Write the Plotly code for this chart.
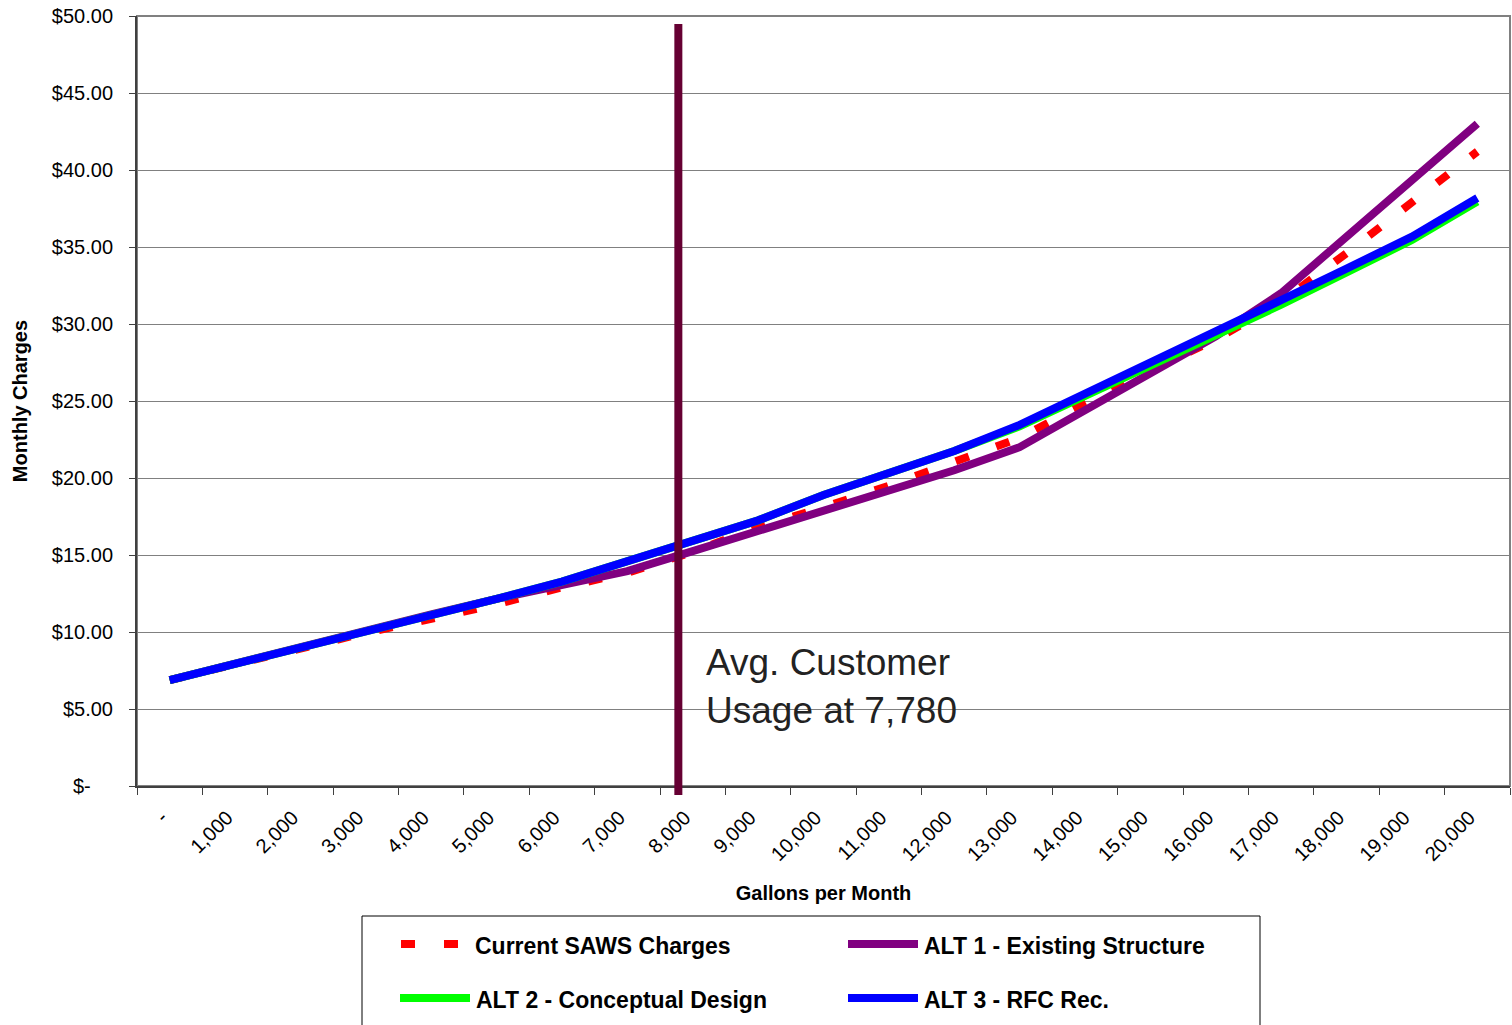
import plotly.graph_objects as go

# ---- data -------------------------------------------------------------
gallons = [0, 1000, 2000, 3000, 4000, 5000, 6000, 7000, 8000, 9000, 10000,
           11000, 12000, 13000, 14000, 15000, 16000, 17000, 18000, 19000, 20000]
gallon_labels = ["-", "1,000", "2,000", "3,000", "4,000", "5,000", "6,000",
                 "7,000", "8,000", "9,000", "10,000", "11,000", "12,000",
                 "13,000", "14,000", "15,000", "16,000", "17,000", "18,000",
                 "19,000", "20,000"]

current_saws = [6.88, 7.90, 8.95, 9.95, 10.85, 11.80, 12.90, 13.85, 15.20, 16.80,
                18.10, 19.50, 21.05, 22.60, 24.85, 27.00, 29.00, 31.45, 34.60,
                37.90, 41.20]
alt1_existing = [6.88, 7.97, 9.05, 10.12, 11.15, 12.15, 13.05, 13.95, 15.25, 16.55,
                 17.85, 19.15, 20.50, 22.00, 24.40, 26.80, 29.20, 32.00, 35.65,
                 39.30, 43.00]
alt2_conceptual = [6.88, 7.93, 8.98, 10.00, 11.00, 12.15, 13.27, 14.57, 15.95, 17.25,
                   18.90, 20.30, 21.75, 23.35, 25.30, 27.25, 29.20, 31.25, 33.35,
                   35.45, 37.95]
alt3_rfc = [6.88, 7.93, 8.98, 10.00, 11.00, 12.15, 13.27, 14.57, 15.95, 17.25,
            18.90, 20.30, 21.75, 23.45, 25.45, 27.45, 29.45, 31.55, 33.60,
            35.67, 38.18]

series_names = ["Current SAWS Charges", "ALT 1 - Existing Structure",
                "ALT 2 - Conceptual Design", "ALT 3 - RFC Rec."]
series_values = [current_saws, alt1_existing, alt2_conceptual, alt3_rfc]
series_colors = ["#FF0000", "#800080", "#00FF00", "#0000FF"]
series_dash = ["14px,29px", "solid", "solid", "solid"]

charge_ticks = [0, 5, 10, 15, 20, 25, 30, 35, 40, 45, 50]
# accounting-style zero label keeps its trailing padding
charge_labels = ["$-\u00a0\u00a0\u00a0\u00a0", "$5.00", "$10.00", "$15.00", "$20.00",
                 "$25.00", "$30.00", "$35.00", "$40.00", "$45.00", "$50.00"]

avg_usage = 7780

# ---- layout geometry ---------------------------------------------------
W, H = 1512, 1025
ML, MR, MT, MB = 137, 2, 16, 239
PW, PH = W - ML - MR, H - MT - MB
FONT = "Liberation Sans, Arial, sans-serif"


def px_x(p):
    return (p - ML) / PW


def px_y(p):
    return (H - MB - p) / PH


fig = go.Figure()
for name, vals, col, dash in zip(series_names, series_values, series_colors, series_dash):
    fig.add_trace(go.Scatter(
        x=gallons, y=vals, name=name, mode="lines",
        line=dict(color=col, width=8, dash=dash),
        showlegend=False,
    ))

step = gallons[1] - gallons[0]
boundaries = [g - step / 2 for g in gallons] + [gallons[-1] + step / 2]

fig.update_xaxes(
    range=[gallons[0] - step / 2, gallons[-1] + step / 2],
    tickmode="array", tickvals=gallons, ticktext=gallon_labels,
    tickangle=-45, ticks="", showgrid=False, zeroline=False,
    ticklabelstandoff=10, ticklabelshift=-8,
    showline=True, linecolor="#404040", linewidth=2,
    tickfont=dict(family=FONT, size=20, color="#000000"),
    minor=dict(tickmode="array", tickvals=boundaries, ticks="outside",
               ticklen=7, tickwidth=1, tickcolor="#404040", showgrid=False),
    title=dict(text="<b>Gallons per Month</b>", standoff=22,
               font=dict(family=FONT, size=20, color="#000000")),
)
fig.update_yaxes(
    range=[0, 50], tickmode="array", tickvals=charge_ticks, ticktext=charge_labels,
    ticks="outside", ticklen=6, tickwidth=1, tickcolor="#404040",
    ticklabelstandoff=12,
    showgrid=True, gridcolor="#808080", gridwidth=1, zeroline=False,
    showline=True, linecolor="#404040", linewidth=2,
    tickfont=dict(family=FONT, size=20, color="#000000"),
    title=dict(text="<b>Monthly Charges</b>", standoff=19,
               font=dict(family=FONT, size=20, color="#000000")),
)

shapes = [
    # plot-area frame (top and right edges)
    dict(type="rect", xref="paper", yref="paper", x0=0, x1=1, y0=0, y1=1,
         line=dict(color="#808080", width=2), layer="below"),
    # average customer usage marker
    dict(type="line", xref="x", yref="paper", x0=avg_usage, x1=avg_usage,
         y0=px_y(795), y1=px_y(24), line=dict(color="#660033", width=8),
         layer="above"),
    # legend box
    dict(type="rect", xref="paper", yref="paper",
         x0=px_x(362), x1=px_x(1260), y0=px_y(1040), y1=px_y(916),
         line=dict(color="#000000", width=1), fillcolor="rgba(0,0,0,0)"),
]

annotations = [
    dict(xref="paper", yref="paper", x=px_x(704), y=px_y(640),
         xanchor="left", yanchor="top", align="left", showarrow=False,
         text=f"Avg. Customer<br>Usage at {avg_usage:,}",
         font=dict(family=FONT, size=37, color="#222222")),
]

# hand-built legend: two columns, two rows
legend_slots = [(401, 460, 473, 946), (848, 918, 922, 946),
                (400, 470, 474, 1000), (848, 918, 922, 1000)]
for (s0, s1, tx, ty), name, col, dash in zip(legend_slots, series_names,
                                             series_colors, series_dash):
    shapes.append(dict(type="line", xref="paper", yref="paper",
                       x0=px_x(s0), x1=px_x(s1), y0=px_y(ty - 2), y1=px_y(ty - 2),
                       line=dict(color=col, width=8, dash=dash)))
    annotations.append(dict(xref="paper", yref="paper", x=px_x(tx), y=px_y(ty),
                            xanchor="left", yanchor="middle", showarrow=False,
                            text=f"<b>{name}</b>",
                            font=dict(family=FONT, size=23, color="#000000")))

fig.update_layout(
    width=W, height=H,
    margin=dict(l=ML, r=MR, t=MT, b=MB, autoexpand=False),
    paper_bgcolor="#FFFFFF", plot_bgcolor="#FFFFFF",
    shapes=shapes, annotations=annotations, showlegend=False,
    font=dict(family=FONT, color="#000000"),
)

fig.write_html("out.html")
